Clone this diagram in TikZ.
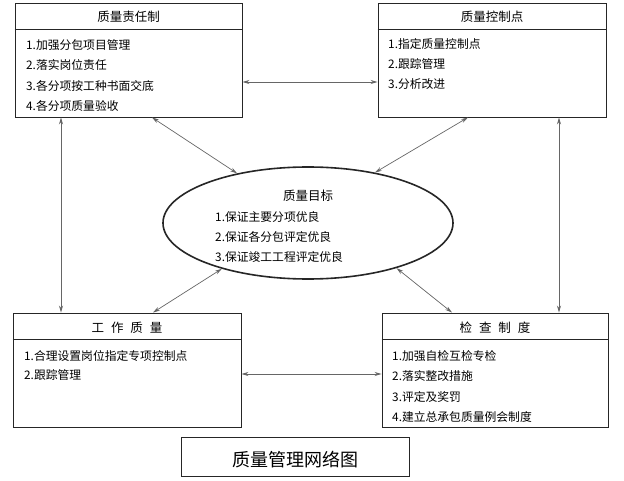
\documentclass[tikz,border=0pt]{standalone}
\usepackage{fontspec}
\setmainfont{Noto Sans CJK SC}
\usetikzlibrary{arrows.meta,shapes.geometric}

\tikzset{
  box/.style={draw=black!85, line width=0.9pt, rectangle, minimum width=#1, minimum height=114pt, inner sep=0pt},
  head/.style={font=\fontsize{12.5}{14}\selectfont},
  item/.style={anchor=west, inner sep=0pt, font=\fontsize{11.8}{14}\selectfont},
  link/.style={draw=black!60, line width=0.7pt, {Stealth[length=7pt,width=4pt]}-{Stealth[length=7pt,width=4pt]}}
}
\newcommand{\gapx}{\hspace{0.55em}}

\begin{document}
\begin{tikzpicture}[x=1pt, y=-1pt]
	\useasboundingbox (0,0) rectangle (624,481);
	% Boxes
	\node [box=227pt] (tl) at (128.5,60) {};
	\node [box=228pt] (tr) at (492,60) {};
	\node [box=228pt] (bl) at (127,370) {};
	\node [box=226pt] (br) at (495,370) {};
	\node [draw=black!85, line width=1.6pt, ellipse, minimum width=290pt, minimum height=112pt, inner sep=0pt] (goal) at (308,223) {};
	\node [draw=black!85, line width=0.9pt, rectangle, minimum width=228pt, minimum height=39pt, inner sep=0pt] (cap) at (295,456.5) {};
	
	% Header lines
	\draw [black!85, line width=0.9pt] (tl.west |- 0,29) -- (tl.east |- 0,29);
	\draw [black!85, line width=0.9pt] (tr.west |- 0,29) -- (tr.east |- 0,29);
	\draw [black!85, line width=0.9pt] (bl.west |- 0,339) -- (bl.east |- 0,339);
	\draw [black!85, line width=0.9pt] (br.west |- 0,339) -- (br.east |- 0,339);
	
	% Titles
	\node [head] (tlh) at (128.5,17) {质量责任制};
	\node [head] (trh) at (492,17) {质量控制点};
	\node [head] (goalh) at (308,196) {质量目标};
	\node [head] (blh) at (127,328) {工\gapx 作\gapx 质\gapx 量};
	\node [head] (brh) at (495,328) {检\gapx 查\gapx 制\gapx 度};
	\node [font=\fontsize{18}{20}\selectfont] (caph) at (295,460) {质量管理网络图};
	
	% Top left items
	\node [item] (tl1) at (26,45) {1.加强分包项目管理};
	\node [item] (tl2) at (26,65) {2.落实岗位责任};
	\node [item] (tl3) at (26,86) {3.各分项按工种书面交底};
	\node [item] (tl4) at (26,106) {4.各分项质量验收};
	
	% Top right items
	\node [item] (tr1) at (388,44) {1.指定质量控制点};
	\node [item] (tr2) at (388,64) {2.跟踪管理};
	\node [item] (tr3) at (388,84) {3.分析改进};
	
	% Goal items
	\node [item] (g1) at (215,217) {1.保证主要分项优良};
	\node [item] (g2) at (215,237) {2.保证各分包评定优良};
	\node [item] (g3) at (215,257) {3.保证竣工工程评定优良};
	
	% Bottom left items
	\node [item] (bl1) at (24,356) {1.合理设置岗位指定专项控制点};
	\node [item] (bl2) at (24,375) {2.跟踪管理};
	
	% Bottom right items
	\node [item] (br1) at (392,356) {1.加强自检互检专检};
	\node [item] (br2) at (392,376) {2.落实整改措施};
	\node [item] (br3) at (392,397) {3.评定及奖罚};
	\node [item] (br4) at (392,417) {4.建立总承包质量例会制度};
	
	% Links
	\draw [link] (tl.east |- 0,82) -- (tr.west |- 0,82);
	\draw [link] (bl.east |- 0,374) -- (br.west |- 0,374);
	\draw [link] (tl.south -| 61,0) -- (bl.north -| 61,0);
	\draw [link] (tr.south -| 559,0) -- (br.north -| 559,0);
	\draw [link] (tl.south -| 152,0) -- (goal.145);
	\draw [link] (tr.south -| 468,0) -- (goal.37);
	\draw [link] (goal.208) -- (bl.north -| 153,0);
	\draw [link] (goal.-27) -- (br.north -| 452,0);
	
\end{tikzpicture}
\end{document}
